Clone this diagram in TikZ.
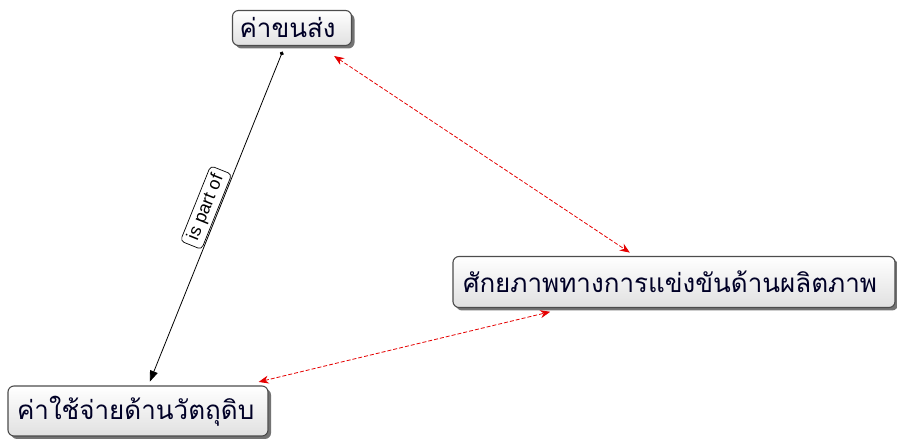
\documentclass[tikz,border=0pt]{standalone}
\usepackage{fontspec}
\setmainfont{Liberation Sans}
\newfontfamily\thaifont[Script=Thai]{Loma}
\usetikzlibrary{arrows.meta,shadows}
\tikzset{
  concept/.style={draw=black!70, line width=1.1pt, rounded corners=6pt,
    top color=white, bottom color=black!12, inner xsep=0pt, inner ysep=0pt,
    font=\thaifont\fontsize{26}{28}\selectfont, text=black!85!blue,
    drop shadow={shadow xshift=3pt, shadow yshift=-3pt, fill=black, opacity=0.55}},
  link/.style={line width=0.8pt, draw=black},
  assoc/.style={line width=0.8pt, draw=red!90!black, dashed, dash pattern=on 4pt off 2pt,
    {Stealth[length=10pt,width=8pt]}-{Stealth[length=10pt,width=8pt]}},
  linklabel/.style={draw=black, fill=white, rounded corners=4pt, line width=0.7pt,
    font=\fontsize{18}{20}\selectfont, inner xsep=6pt, inner ysep=3pt}
}
\begin{document}
\begin{tikzpicture}[x=1pt,y=1pt]
\useasboundingbox (0,0) rectangle (897,441);
\node[concept, minimum width=119pt, minimum height=35pt, text width=105pt, align=left] (A) at (292,413) {ค่าขนส่ง};
\node[concept, minimum width=442pt, minimum height=51pt, text width=422pt, align=left] (B) at (674,159) {ศักยภาพทางการแข่งขันด้านผลิตภาพ};
\node[concept, minimum width=260pt, minimum height=50pt, text width=242pt, align=left] (C) at (138,30) {ค่าใช้จ่ายด้านวัตถุดิบ};
\draw[link, {Circle[length=4pt]}-{Triangle[length=11pt,width=8pt]}, shorten <=6pt, shorten >=4pt]
  (A) -- node[linklabel, pos=0.49, sloped, above=1pt] {is part of} (C);
\draw[assoc, shorten <=18pt, shorten >=6pt] (A) -- (B);
\draw[assoc, shorten <=15pt, shorten >=16pt] (C) -- (B);
\end{tikzpicture}
\end{document}
